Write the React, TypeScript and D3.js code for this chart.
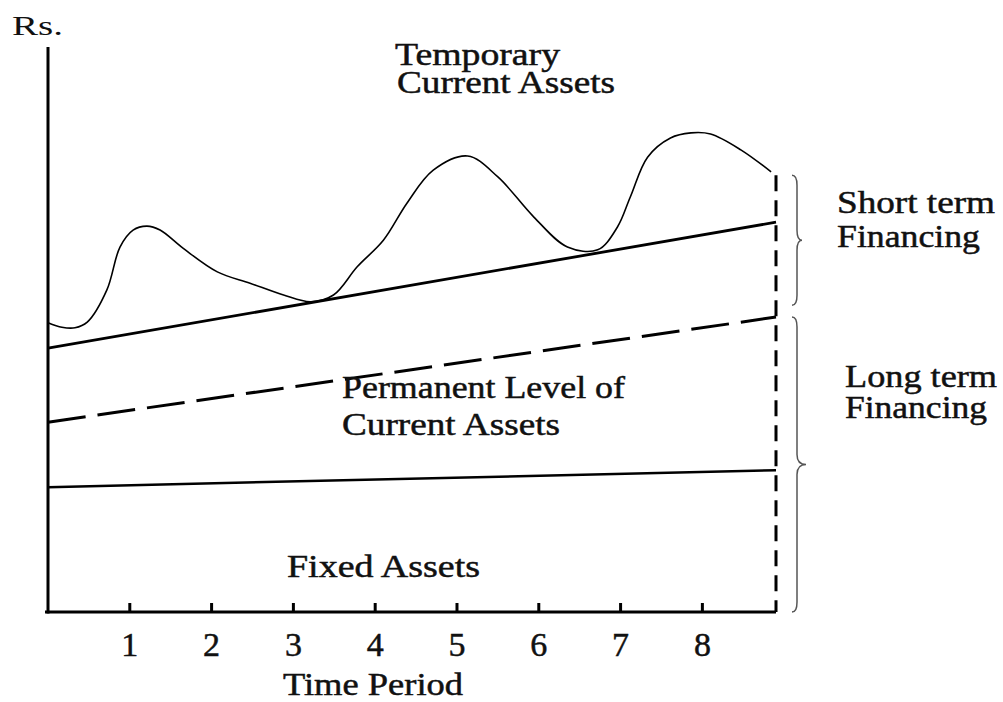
import * as d3 from 'd3';
import React from 'react';

// time periods on the x axis
const tickPeriods = [1, 2, 3, 4, 5, 6, 7, 8];
const tEnd = 8.9;

// temporary current assets (wavy curve), [time, Rs]
const temporaryAssets: [number, number][] = [
  [0, 51.2], [0.17, 50.4], [0.33, 50.3], [0.48, 51.3], [0.72, 57.0], [0.88, 64.6],
  [1.04, 67.6], [1.21, 68.3], [1.37, 67.6], [1.65, 64.4], [2.07, 60.2], [2.47, 58.2],
  [2.88, 56.1], [3.21, 54.9], [3.49, 56.1], [3.78, 61.1], [4.1, 65.8], [4.39, 72.4],
  [4.71, 78.2], [5.13, 80.7], [5.5, 77.0], [5.94, 69.9], [6.35, 64.6], [6.72, 64.1],
  [6.96, 68.1], [7.12, 73.5], [7.33, 80.5], [7.61, 83.9], [7.86, 84.8], [8.1, 84.6],
  [8.47, 81.8], [8.84, 77.9],
];

// straight levels, [start, end] values
const permanentTotal = [46.7, 69.0];
const permanentLevel = [33.6, 52.2];
const fixedAssets = [22.1, 25.1];
const dividerTop = 77.3;

// brace ranges
const shortTermRange = [54.3, 77.3];
const longTermRange = [0, 52.2];

const W = 1003;
const H = 702;
const font = '"Liberation Serif", "Times New Roman", serif';

function brace(x0: number, yTop: number, yBot: number, depth: number, tip: number) {
  const x1 = x0 + depth;
  const x2 = x1 + tip;
  const ym = (yTop + yBot) / 2;
  const r = 10;
  return `M${x0},${yTop} Q${x1},${yTop} ${x1},${yTop + r} L${x1},${ym - r} Q${x1},${ym} ${x2},${ym} Q${x1},${ym} ${x1},${ym + r} L${x1},${yBot - r} Q${x1},${yBot} ${x0},${yBot}`;
}

export default function App() {
  const x = d3.scaleLinear().domain([0, tEnd]).range([48, 776]);
  const y = d3.scaleLinear().domain([0, 100]).range([612, 47]);

  const wave = d3
    .line<[number, number]>()
    .x((d) => x(d[0]))
    .y((d) => y(d[1]))
    .curve(d3.curveCatmullRom.alpha(0.5))(temporaryAssets);

  const straight = (v: number[]) => `M${x(0)},${y(v[0])} L${x(tEnd)},${y(v[1])}`;

  const txt = (s: string, tx: number, ty: number, len: number, size = 32) => (
    <text x={tx} y={ty} fontSize={size} textLength={len} lengthAdjust="spacingAndGlyphs">
      {s}
    </text>
  );

  return (
    <svg width={W} height={H} style={{ position: 'absolute', left: 0, top: 0, background: '#fff' }}>
      <rect width={W} height={H} fill="#fff" />
      <g fill="none" stroke="#000" strokeLinecap="butt">
        {/* axes */}
        <line x1={x(0)} y1={47} x2={x(0)} y2={y(0) + 1.5} strokeWidth={3} />
        <line x1={x(0) - 3} y1={y(0)} x2={x(tEnd)} y2={y(0)} strokeWidth={3} />
        {tickPeriods.map((t) => (
          <line key={t} x1={x(t)} y1={y(0)} x2={x(t)} y2={y(0) - 9} strokeWidth={3} />
        ))}
        {/* divider */}
        <line x1={x(tEnd)} y1={y(dividerTop)} x2={x(tEnd)} y2={y(0)} strokeWidth={3} strokeDasharray="16,9" />
        {/* levels */}
        <path d={straight(fixedAssets)} strokeWidth={2.5} />
        <path d={straight(permanentLevel)} strokeWidth={3} strokeDasharray="38,12" />
        <path d={straight(permanentTotal)} strokeWidth={2.8} />
        <path d={wave ?? ''} strokeWidth={1.6} />
        {/* braces */}
        <path d={brace(x(tEnd) + 16, y(shortTermRange[1]), y(shortTermRange[0]), 5, 5)} stroke="#555" strokeWidth={1.5} />
        <path d={brace(x(tEnd) + 16, y(longTermRange[1]), y(longTermRange[0]), 5, 9)} stroke="#555" strokeWidth={1.5} />
      </g>
      <g fontFamily={font} fill="#111" stroke="#111" strokeWidth={0.5}>
        <text x={12} y={35} fontSize={28} stroke="none" textLength={51} lengthAdjust="spacingAndGlyphs">
          Rs.
        </text>
        {txt('Temporary', 395, 65, 165)}
        {txt('Current Assets', 397, 93, 218)}
        {txt('Permanent Level of', 342, 398, 283)}
        {txt('Current Assets', 342, 435, 218)}
        {txt('Fixed Assets', 287, 577, 193)}
        {txt('Short term', 837, 213, 158)}
        {txt('Financing', 837, 247, 143)}
        {txt('Long term', 845, 387, 152)}
        {txt('Financing', 845, 418, 142)}
        {txt('Time Period', 283, 695, 180)}
        {tickPeriods.map((t) => (
          <text key={t} x={x(t)} y={656} fontSize={34} textAnchor="middle">
            {t}
          </text>
        ))}
      </g>
    </svg>
  );
}
